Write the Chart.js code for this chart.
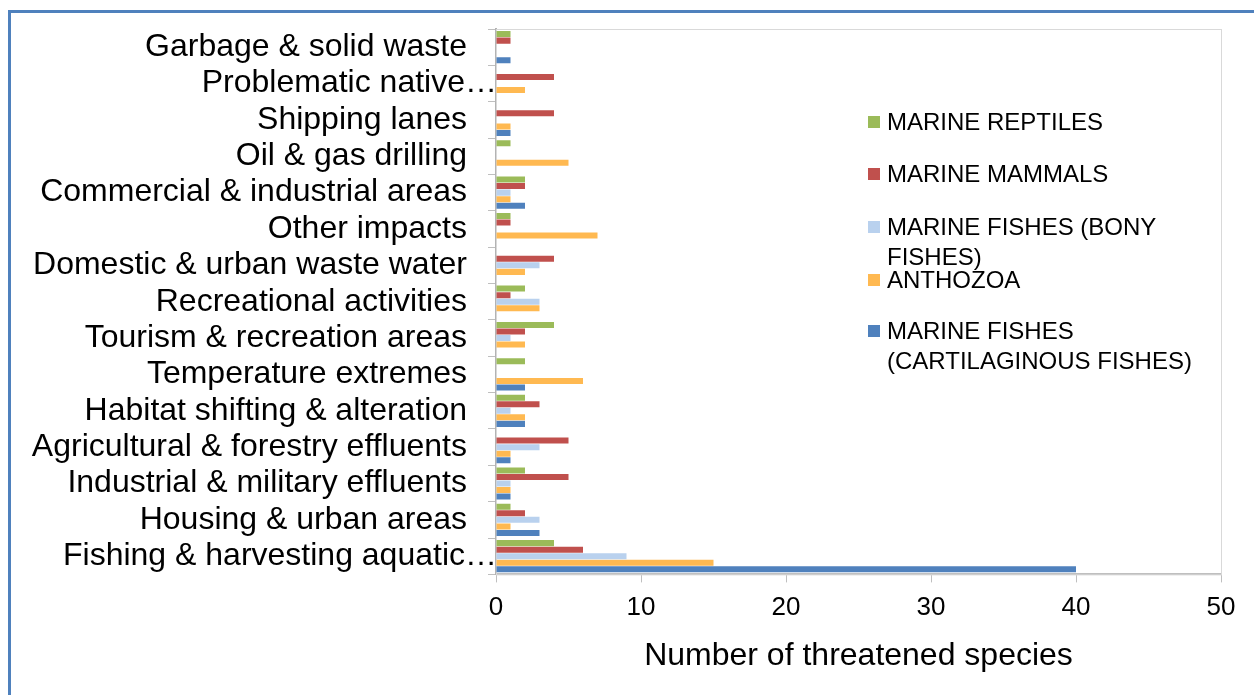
<!DOCTYPE html>
<html lang="en">
<head>
<meta charset="UTF-8">
<title>Threatened marine species by threat</title>
<script src="https://cdn.jsdelivr.net/npm/chart.js"></script>
<style>
body { margin: 0; padding: 0; background: #fff; font-family: "Liberation Sans", Arial, sans-serif; }
#wrap { position: relative; width: 1254px; height: 695px; overflow: hidden; }
#frame { position: absolute; left: 8px; top: 10px; width: 1400px; height: 800px; border-left: 3px solid #4f81bd; border-top: 3px solid #4f81bd; }
#legend { position: absolute; left: 0; top: 0; }
.item { position: absolute; left: 868px; font-size: 24px; line-height: 30px; color: #000; white-space: nowrap; }
.item span.box { position: absolute; left: 0; top: 9px; width: 12px; height: 12px; }
.item span.txt { position: absolute; left: 19px; top: 0; }
</style>
</head>
<body>
<div id="wrap">
  <div id="frame"></div>
  <canvas id="chart" width="1254" height="695"></canvas>
  <div id="legend"></div>
</div>
<script>
// categories top to bottom
const categories = [
  'Garbage & solid waste',
  'Problematic native…',
  'Shipping lanes',
  'Oil & gas drilling',
  'Commercial & industrial areas',
  'Other impacts',
  'Domestic & urban waste water',
  'Recreational activities',
  'Tourism & recreation areas',
  'Temperature extremes',
  'Habitat shifting & alteration',
  'Agricultural & forestry effluents',
  'Industrial & military effluents',
  'Housing & urban areas',
  'Fishing & harvesting aquatic…'
];

const reptiles      = [1, 0, 0, 1, 2, 1, 0, 2, 4, 2, 2, 0, 2, 1, 4];
const mammals       = [1, 4, 4, 0, 2, 1, 4, 1, 2, 0, 3, 5, 5, 2, 6];
const bonyFishes    = [0, 0, 0, 0, 1, 0, 3, 3, 1, 0, 1, 3, 1, 3, 9];
const anthozoa      = [0, 2, 1, 5, 1, 7, 2, 3, 2, 6, 2, 1, 1, 1, 15];
const cartilaginous = [1, 0, 1, 0, 2, 0, 0, 0, 0, 2, 2, 1, 1, 3, 40];

const xTicks = [0, 10, 20, 30, 40, 50];

const series = [
  { name: ['MARINE REPTILES'], data: reptiles, color: '#9bbb59' },
  { name: ['MARINE MAMMALS'], data: mammals, color: '#c0504d' },
  { name: ['MARINE FISHES (BONY', 'FISHES)'], data: bonyFishes, color: '#b9d1ee' },
  { name: ['ANTHOZOA'], data: anthozoa, color: '#ffb951' },
  { name: ['MARINE FISHES', '(CARTILAGINOUS FISHES)'], data: cartilaginous, color: '#4f81bd' }
];

const FONT = '"Liberation Sans", Arial, sans-serif';

// plot area frame + category labels (Excel lets the clipped ones run up to the axis)
const framePlugin = {
  id: 'frame',
  beforeDatasetsDraw(chart) {
    const a = chart.chartArea, ctx = chart.ctx;
    ctx.save();
    ctx.strokeStyle = '#d9d9d9';
    ctx.lineWidth = 1;
    ctx.strokeRect(a.left + 0.5, a.top + 0.5, a.right - a.left, a.bottom - a.top);
    ctx.restore();
  },
  afterDraw(chart) {
    const ctx = chart.ctx, y = chart.scales.y, a = chart.chartArea;
    ctx.save();
    ctx.font = '32px ' + FONT;
    ctx.fillStyle = '#000';
    ctx.textAlign = 'right';
    ctx.textBaseline = 'middle';
    categories.forEach((c, i) => {
      const x = c.endsWith('…') ? a.left + 1 : a.left - 29;
      ctx.fillText(c, x, y.getPixelForValue(i));
    });
    ctx.restore();
  }
};

new Chart(document.getElementById('chart'), {
  type: 'bar',
  data: {
    labels: categories,
    datasets: series.map(s => ({
      label: s.name.join(' '),
      data: s.data,
      backgroundColor: s.color,
      borderWidth: 0,
      categoryPercentage: 0.9,
      barPercentage: 0.92
    }))
  },
  options: {
    indexAxis: 'y',
    responsive: false,
    animation: false,
    layout: { padding: { left: 488, right: 33, top: 29, bottom: 16 } },
    plugins: { legend: { display: false }, tooltip: { enabled: false } },
    scales: {
      x: {
        min: 0, max: 50,
        afterBuildTicks: scale => { scale.ticks = xTicks.map(v => ({ value: v })); },
        grid: { drawOnChartArea: false, tickLength: 8, color: '#bfbfbf', lineWidth: 1 },
        border: { color: '#bfbfbf', width: 2 },
        ticks: { color: '#000', font: { family: FONT, size: 26 }, padding: 10 },
        title: {
          display: true, text: 'Number of threatened species', color: '#000',
          font: { family: FONT, size: 32 }, padding: { top: 3, bottom: 4 }
        }
      },
      y: {
        grid: { drawOnChartArea: false, offset: true, tickLength: 8, color: '#bfbfbf', lineWidth: 1 },
        border: { color: '#b3b3b3', width: 2 },
        ticks: { display: false }
      }
    }
  },
  plugins: [framePlugin]
});

// legend, one item every 52px like the original
const legend = document.getElementById('legend');
const legendCentres = [122, 174, 227, 280, 331];
series.forEach((s, i) => {
  const d = document.createElement('div');
  d.className = 'item';
  d.style.top = (legendCentres[i] - 15) + 'px';
  d.innerHTML = '<span class="box" style="background:' + s.color + '"></span><span class="txt">' + s.name.join('<br>') + '</span>';
  legend.appendChild(d);
});
</script>
</body>
</html>
